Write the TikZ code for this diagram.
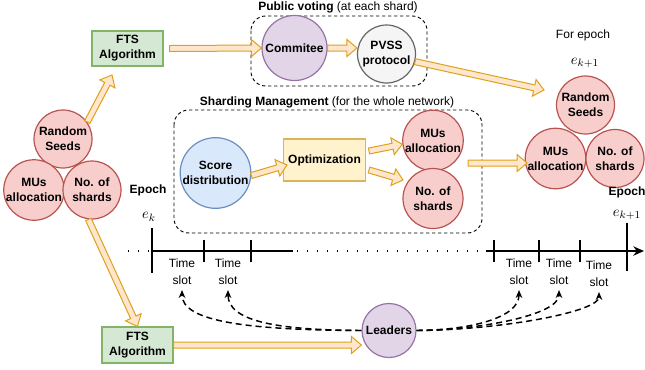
\documentclass[tikz,border=0pt]{standalone}
\usepackage{fontspec}
\setmainfont{Liberation Sans}
\usetikzlibrary{calc, positioning, arrows.meta}

\definecolor{greenfill}{HTML}{D5E8D4}  \definecolor{greenline}{HTML}{82B366}
\definecolor{purplefill}{HTML}{E1D5E7} \definecolor{purpleline}{HTML}{9673A6}
\definecolor{greyfill}{HTML}{F5F5F5}   \definecolor{greyline}{HTML}{666666}
\definecolor{redfill}{HTML}{F8CECC}    \definecolor{redline}{HTML}{B85450}
\definecolor{bluefill}{HTML}{DAE8FC}   \definecolor{blueline}{HTML}{6C8EBF}
\definecolor{yellowfill}{HTML}{FFF2CC} \definecolor{yellowline}{HTML}{D6B656}
\definecolor{arrowfill}{HTML}{FFE6CC}  \definecolor{arrowline}{HTML}{DCA21C}

% wide hollow arrow from #1 to #2
\newcommand{\flexarrow}[2]{%
  \filldraw[flexarrow] let \p1=($(#2)-(#1)$), \n1={atan2(\y1,\x1)} in
    ($(#1)+(\n1+90:2.25pt)$) -- ($(#2)+(\n1+180:7.5pt)+(\n1+90:2.25pt)$)
    -- ($(#2)+(\n1+180:7.5pt)+(\n1+90:6.4pt)$) -- (#2)
    -- ($(#2)+(\n1+180:7.5pt)+(\n1-90:6.4pt)$) -- ($(#2)+(\n1+180:7.5pt)+(\n1-90:2.25pt)$)
    -- ($(#1)+(\n1-90:2.25pt)$) -- cycle;}

\begin{document}
\begin{tikzpicture}[x=0.75pt, y=-0.75pt, font=\fontsize{9}{11.25}\selectfont\bfseries,
  circ/.style={circle, draw, line width=0.9pt, inner sep=0pt, minimum size=43.5pt, align=center},
  seed/.style={circ, fill=redfill, draw=redline},
  ftsbox/.style={draw=greenline, fill=greenfill, line width=0.9pt, align=center,
    minimum width=53.25pt, minimum height=26.25pt, inner sep=1pt},
  group/.style={draw, dash pattern=on 2.5pt off 2pt, rounded corners=11pt, line width=0.7pt},
  flexarrow/.style={fill=arrowfill, draw=arrowline, line width=0.75pt},
  leadline/.style={dash pattern=on 4.5pt off 3pt, line width=1.1pt, -{Stealth[length=6pt, width=5pt]}},
  axis/.style={line width=1.1pt},
  dotline/.style={axis, dash pattern=on 1.1pt off 6.4pt},
  epochmath/.style={font=\fontsize{11}{13}\selectfont},
  slot/.style={font=\fontsize{9}{12.75}\selectfont, align=center, inner sep=4pt}]

\useasboundingbox (0,0) rectangle (645,369);

% groups
\draw[group] (251,16) rectangle (427,86);
\node (pvtitle) at (338,7) {Public voting {\mdseries(at each shard)}};
\draw[group] (174,110) rectangle (482,233);
\node (smtitle) at (327,102) {Sharding Management {\mdseries(for the whole network)}};

% top row
\node[ftsbox] (fts1) at (127.5,48.5) {FTS\\Algorithm};
\node[circ, fill=purplefill, draw=purpleline, minimum size=48.75pt] (comm) at (294.5,48) {Commitee};
\node[circ, fill=greyfill, draw=greyline] (pvss) at (386.5,54) {PVSS\\protocol};

% epoch e_k inputs
\node[seed] (seedsL) at (63,139) {Random\\Seeds};
\node[seed] (musL) at (34,190) {MUs\\allocation};
\node[seed] (shardsL) at (92,190) {No. of\\shards};

% sharding management
\node[circ, fill=bluefill, draw=blueline, minimum size=53pt] (score) at (215.5,173) {Score\\distribution};
\node[draw=yellowline, fill=yellowfill, line width=0.9pt, minimum width=57.75pt,
  minimum height=31.5pt] (opt) at (324.5,160) {Optimization};
\node[seed, minimum size=45pt] (musM) at (433,140.5) {MUs\\allocation};
\node[seed, minimum size=45pt] (shardsM) at (433,198.5) {No. of\\shards};

% epoch e_{k+1} inputs
\node[font=\fontsize{9}{11}\selectfont] (forep) at (583,35) {For epoch};
\node[epochmath] (ekR) at (585,63) {$e_{k+1}$};
\node[seed] (seedsR) at (585.5,105) {Random\\Seeds};
\node[seed] (musR) at (555.5,158.5) {MUs\\allocation};
\node[seed] (shardsR) at (615,158.5) {No. of\\shards};
\node (epR) at (627,192) {Epoch};

% bottom row
\node[ftsbox, minimum height=27pt] (fts2) at (137.5,345) {FTS\\Algorithm};
\node[circ, fill=purplefill, draw=purpleline, minimum size=40.5pt] (leaders) at (389,330.5) {Leaders};

% timeline
\node (epL) at (148,190) {Epoch};
\node[epochmath] (ekL) at (149,217) {$e_k$};
\node[epochmath] (ekT) at (627,215) {$e_{k+1}$};
\draw[dotline] (128,251) -- (152,251);
\draw[axis] (152,251) -- (293,251);
\draw[dotline] (297,251) -- (486,251);
\draw[axis, -{Stealth[length=8pt, width=7pt]}] (486,251) -- (644,251);
\draw[axis] (152,228) -- (152,273);
\draw[axis] (627,223) -- (627,271);
\foreach \x in {204,251,494,539,580}
  \draw[axis] (\x,240) -- (\x,262);
\foreach \x/\y/\name in {182/271.5/s1, 228/271.5/s2, 519/271.5/s3, 559/271.5/s4, 599/273.5/s5}
  \node[slot] (\name) at (\x,\y) {Time\\slot};

% arrows
\coordinate (ftsout) at ($(fts1.east)+(6,0)$);
\coordinate (ftsin) at (112,75);
\coordinate (pvin) at (pvss.west |- comm.east);
\coordinate (seedin) at (544,90);
\coordinate (optin) at (287,165);
\coordinate (optout1) at (369,151);
\coordinate (optout2) at (369,170);
\coordinate (shardin) at (403,180);
\coordinate (musout) at (468,163);
\coordinate (musin) at (527,163);
\coordinate (leadin) at (leaders.west |- fts2.east);

\flexarrow{ftsout}{comm.west}
\flexarrow{comm.east}{pvin}
\flexarrow{pvss.-15}{seedin}
\flexarrow{seedsL.35}{ftsin}
\flexarrow{shardsL.-97}{fts2.north}
\flexarrow{fts2.east}{leadin}
\flexarrow{score.-4}{optin}
\flexarrow{optout1}{musM.187}
\flexarrow{optout2}{shardin}
\flexarrow{musout}{musin}

% leaders to time slots
\draw[leadline] (leaders.west) .. controls (250,330) and (182,322) .. (s1.south);
\draw[leadline] (leaders.west) .. controls (280,330) and (228,322) .. (s2.south);
\draw[leadline] (leaders.east) .. controls (470,330) and (519,318) .. (s3.south);
\draw[leadline] (leaders.east) .. controls (480,330) and (559,315) .. (s4.south);
\draw[leadline] (leaders.east) .. controls (500,330) and (599,312) .. (s5.south);
\end{tikzpicture}
\end{document}
